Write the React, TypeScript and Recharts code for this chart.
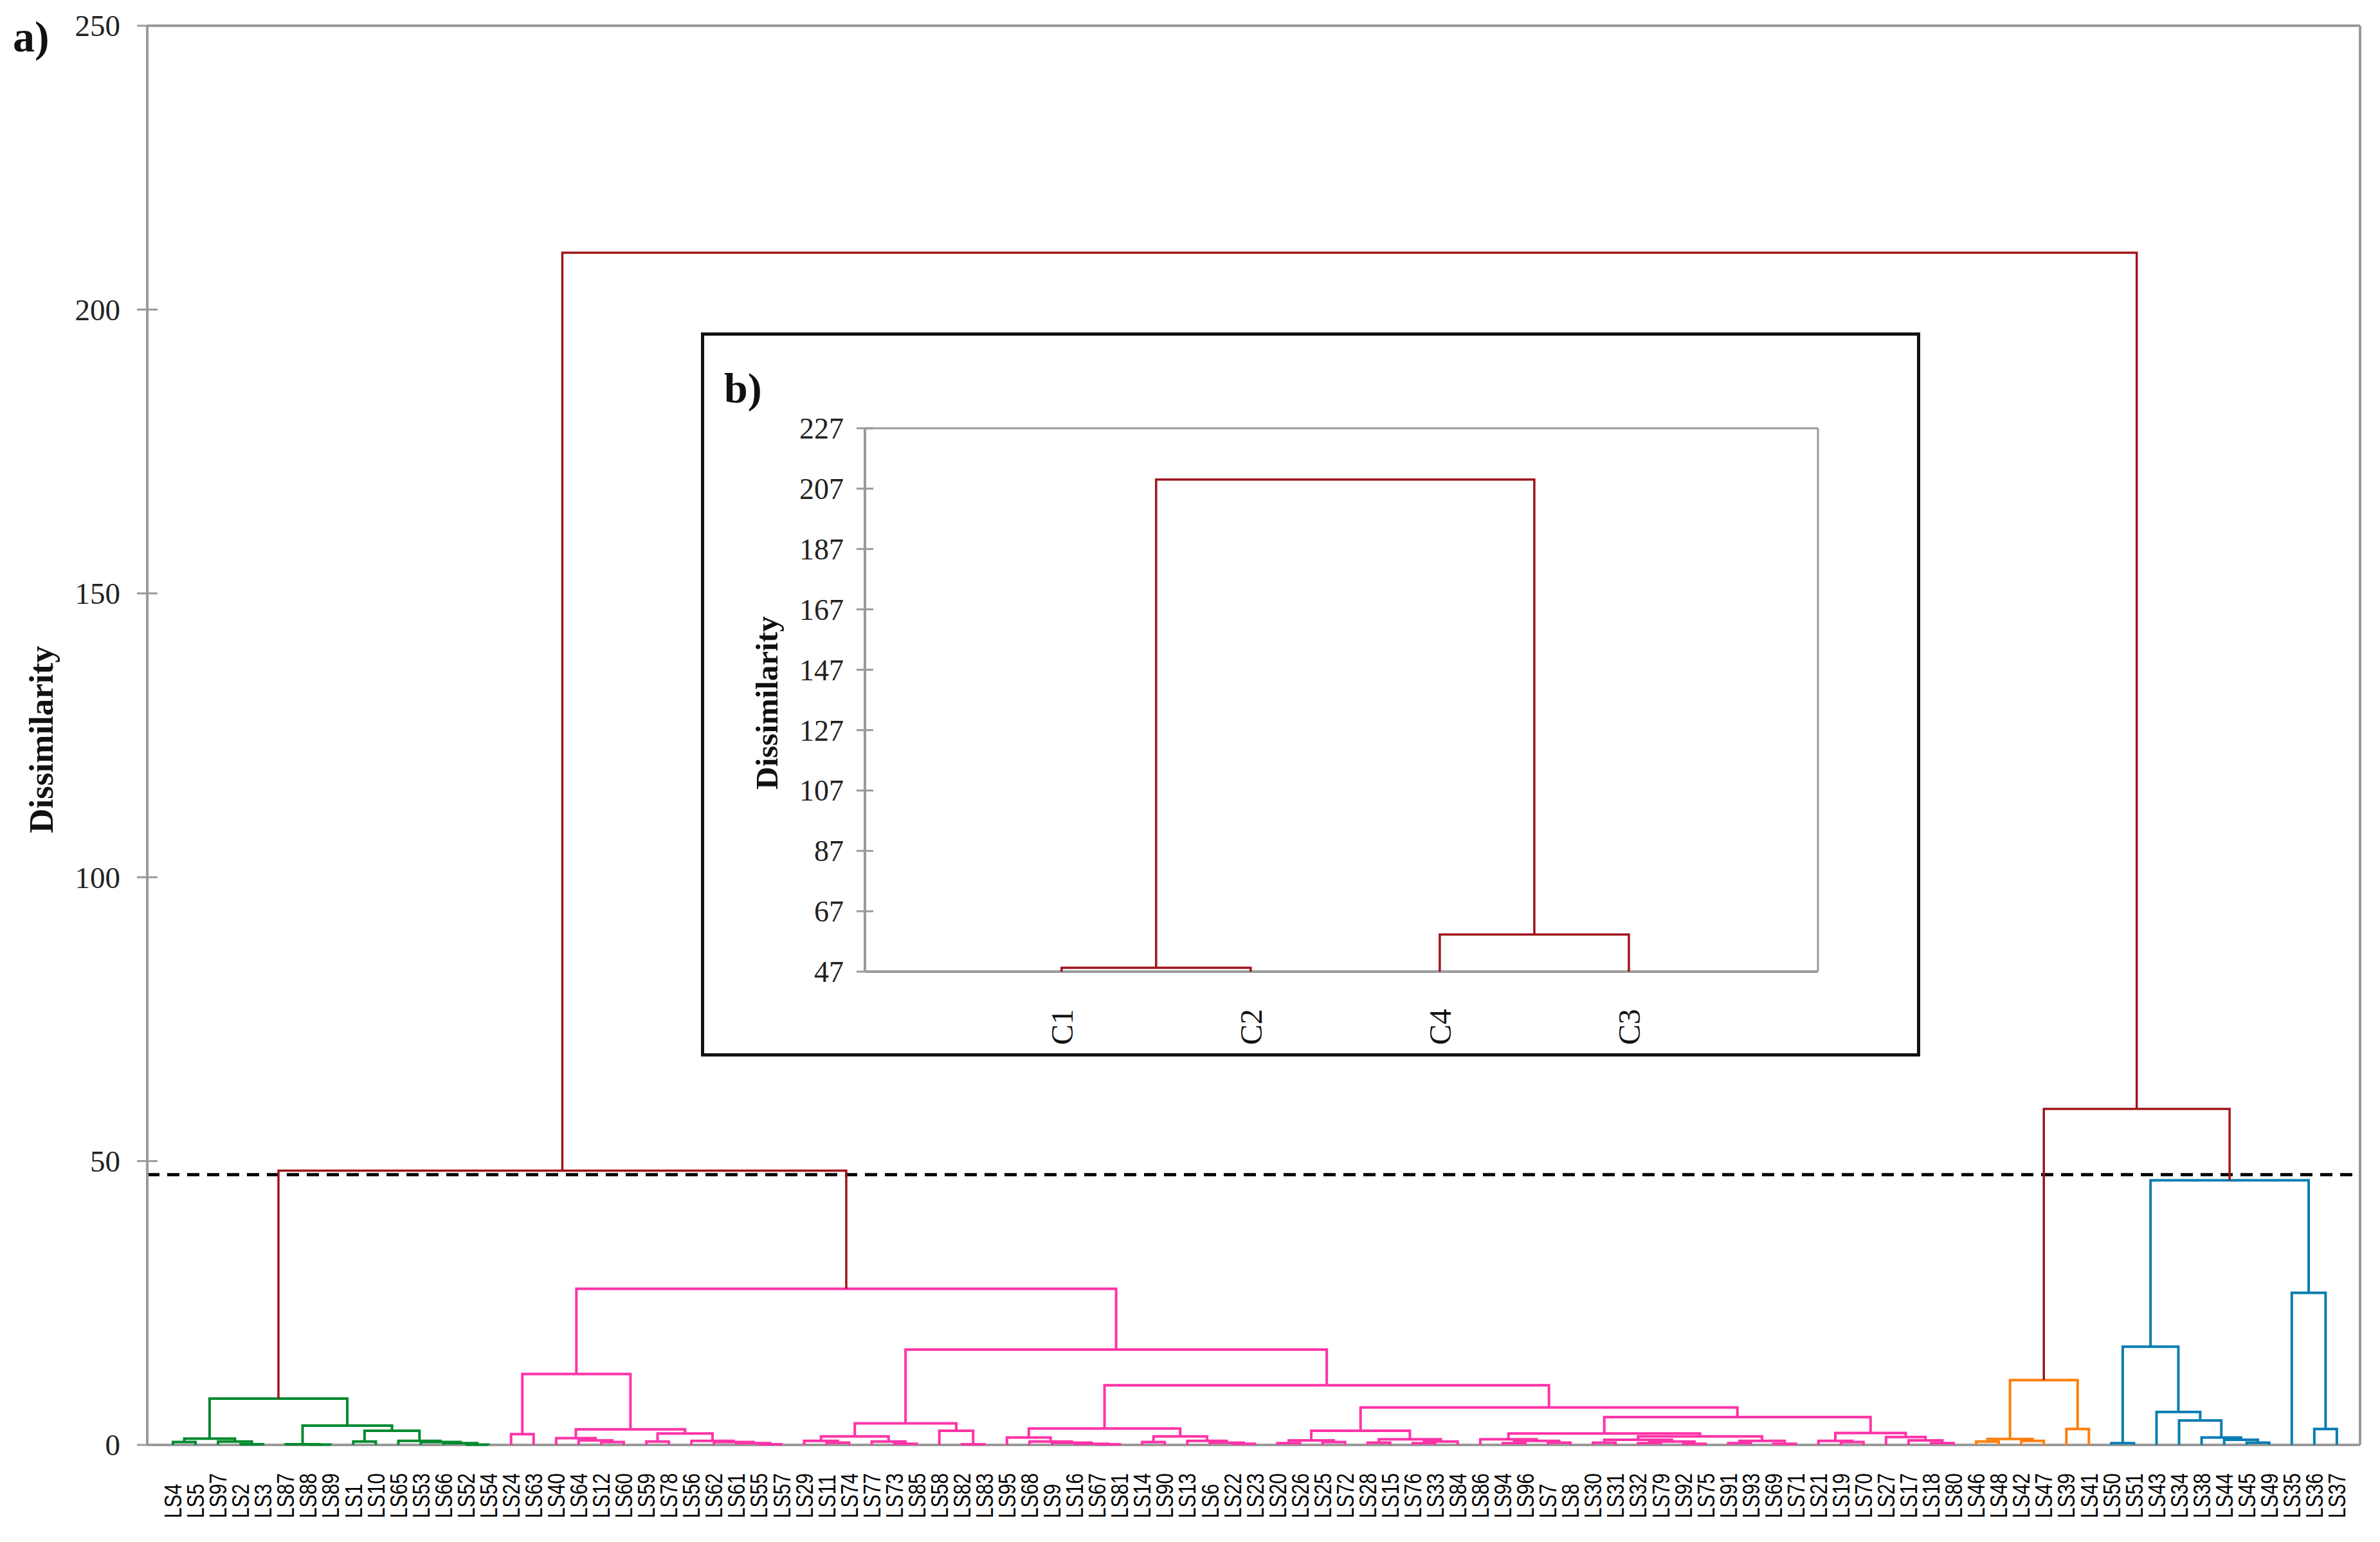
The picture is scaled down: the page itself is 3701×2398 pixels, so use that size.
import { ReferenceLine, Scatter, ScatterChart, XAxis, YAxis } from 'recharts'

// leaf order along the x axis (left to right)
const leafLabels = [
  'LS4', 'LS5', 'LS97', 'LS2', 'LS3', 'LS87', 'LS88', 'LS89', 'LS1', 'LS10', 'LS65', 'LS53', 'LS66', 'LS52', 'LS54',
  'LS24', 'LS63', 'LS40', 'LS64', 'LS12', 'LS60', 'LS59', 'LS78', 'LS56', 'LS62', 'LS61', 'LS55', 'LS57', 'LS29',
  'LS11', 'LS74', 'LS77', 'LS73', 'LS85', 'LS58', 'LS82', 'LS83', 'LS95', 'LS68', 'LS9', 'LS16', 'LS67', 'LS81',
  'LS14', 'LS90', 'LS13', 'LS6', 'LS22', 'LS23', 'LS20', 'LS26', 'LS25', 'LS72', 'LS28', 'LS15', 'LS76', 'LS33',
  'LS84', 'LS86', 'LS94', 'LS96', 'LS7', 'LS8', 'LS30', 'LS31', 'LS32', 'LS79', 'LS92', 'LS75', 'LS91', 'LS93',
  'LS69', 'LS71', 'LS21', 'LS19', 'LS70', 'LS27', 'LS17', 'LS18', 'LS80', 'LS46', 'LS48', 'LS42', 'LS47', 'LS39',
  'LS41', 'LS50', 'LS51', 'LS43', 'LS34', 'LS38', 'LS44', 'LS45', 'LS49', 'LS35', 'LS36', 'LS37',
]

// [node, left child, right child, dissimilarity]
const greenMerges: [string, string, string, number][] = [
  ['g1', 'LS4', 'LS5', 0.5],
  ['g2', 'LS2', 'LS3', 0.1],
  ['g3', 'LS97', 'g2', 0.6],
  ['g4', 'g1', 'g3', 1.1],
  ['g5', 'LS88', 'LS89', 0.05],
  ['g6', 'LS87', 'g5', 0.12],
  ['g7', 'LS1', 'LS10', 0.6],
  ['g8', 'LS52', 'LS54', 0.05],
  ['g9', 'LS66', 'g8', 0.3],
  ['g10', 'LS53', 'g9', 0.5],
  ['g11', 'LS65', 'g10', 0.7],
  ['g12', 'g7', 'g11', 2.5],
  ['g13', 'g6', 'g12', 3.4],
  ['G', 'g4', 'g13', 8.15],
]

const pinkMerges: [string, string, string, number][] = [
  ['p1', 'LS24', 'LS63', 1.9],
  ['p2', 'LS12', 'LS60', 0.5],
  ['p3', 'LS64', 'p2', 0.8],
  ['p4', 'LS40', 'p3', 1.2],
  ['p5', 'LS59', 'LS78', 0.6],
  ['p6', 'LS55', 'LS57', 0.1],
  ['p7', 'LS61', 'p6', 0.3],
  ['p8', 'LS62', 'p7', 0.5],
  ['p9', 'LS56', 'p8', 0.7],
  ['p10', 'p5', 'p9', 2.0],
  ['p11', 'p4', 'p10', 2.75],
  ['PL', 'p1', 'p11', 12.5],
  ['q1', 'LS11', 'LS74', 0.4],
  ['q2', 'LS29', 'q1', 0.7],
  ['q3', 'LS73', 'LS85', 0.2],
  ['q4', 'LS77', 'q3', 0.6],
  ['q5', 'q2', 'q4', 1.5],
  ['q6', 'LS82', 'LS83', 0.1],
  ['q7', 'LS58', 'q6', 2.5],
  ['q8', 'q5', 'q7', 3.8],
  ['q9', 'LS67', 'LS81', 0.1],
  ['q10', 'LS16', 'q9', 0.2],
  ['q11', 'LS9', 'q10', 0.4],
  ['q12', 'LS68', 'q11', 0.6],
  ['q13', 'LS95', 'q12', 1.3],
  ['q14', 'LS14', 'LS90', 0.5],
  ['q15', 'LS22', 'LS23', 0.2],
  ['q16', 'LS6', 'q15', 0.4],
  ['q17', 'LS13', 'q16', 0.7],
  ['q18', 'q14', 'q17', 1.5],
  ['q19', 'q13', 'q18', 2.9],
  ['q20', 'LS20', 'LS26', 0.3],
  ['q21', 'LS25', 'LS72', 0.5],
  ['q22', 'q20', 'q21', 0.8],
  ['q23', 'LS28', 'LS15', 0.4],
  ['q24', 'LS76', 'LS33', 0.3],
  ['q25', 'q24', 'LS84', 0.6],
  ['q26', 'q23', 'q25', 1.0],
  ['q27', 'q22', 'q26', 2.5],
  ['q28', 'LS94', 'LS96', 0.3],
  ['q29', 'LS7', 'LS8', 0.4],
  ['q30', 'q28', 'q29', 0.7],
  ['q31', 'LS86', 'q30', 1.0],
  ['q32', 'LS30', 'LS31', 0.4],
  ['q33', 'LS32', 'LS79', 0.3],
  ['q34', 'LS92', 'LS75', 0.2],
  ['q35', 'q33', 'q34', 0.6],
  ['q36', 'q32', 'q35', 0.9],
  ['q37', 'LS91', 'LS93', 0.3],
  ['q38', 'LS69', 'LS71', 0.2],
  ['q39', 'q37', 'q38', 0.7],
  ['q40', 'q36', 'q39', 1.5],
  ['q41', 'q31', 'q40', 2.0],
  ['q42', 'LS19', 'LS70', 0.5],
  ['q43', 'LS21', 'q42', 0.7],
  ['q44', 'LS18', 'LS80', 0.3],
  ['q45', 'LS17', 'q44', 0.8],
  ['q46', 'LS27', 'q45', 1.4],
  ['q47', 'q43', 'q46', 2.1],
  ['q48', 'q41', 'q47', 4.9],
  ['q49', 'q27', 'q48', 6.6],
  ['q50', 'q19', 'q49', 10.5],
  ['q51', 'q8', 'q50', 16.8],
  ['P', 'PL', 'q51', 27.5],
]

const orangeMerges: [string, string, string, number][] = [
  ['o1', 'LS46', 'LS48', 0.6],
  ['o2', 'LS42', 'LS47', 0.7],
  ['o3', 'o1', 'o2', 1.05],
  ['o4', 'LS39', 'LS41', 2.8],
  ['O', 'o3', 'o4', 11.4],
]

const blueMerges: [string, string, string, number][] = [
  ['b1', 'LS50', 'LS51', 0.3],
  ['b2', 'LS45', 'LS49', 0.4],
  ['b3', 'LS44', 'b2', 0.9],
  ['b4', 'LS38', 'b3', 1.3],
  ['b5', 'LS34', 'b4', 4.3],
  ['b6', 'LS43', 'b5', 5.8],
  ['b7', 'b1', 'b6', 17.3],
  ['b8', 'LS36', 'LS37', 2.8],
  ['b9', 'LS35', 'b8', 26.8],
  ['B', 'b7', 'b9', 46.6],
]

const topMerges: [string, string, string, number][] = [
  ['L', 'G', 'P', 48.3],
  ['R', 'O', 'B', 59.2],
  ['root', 'L', 'R', 210],
]

const clusterTops = ['G', 'P', 'O', 'B']
const yTicks = [0, 50, 100, 150, 200, 250]
const cutHeight = 47.6

// inset b): the four clusters
const insetLeaves = ['C1', 'C2', 'C4', 'C3']
const insetMerges: [string, string, string, number][] = [
  ['c12', 'C1', 'C2', 48.3],
  ['c43', 'C4', 'C3', 59.3],
  ['top', 'c12', 'c43', 210],
]
const insetTicks = [47, 67, 87, 107, 127, 147, 167, 187, 207, 227]
const insetLeafLevel = 47

const clusterColors: Record<string, string> = {
  G: '#008a2e',
  P: '#ff33a8',
  O: '#ff7f0e',
  B: '#0a7db2',
}
const linkColor = '#a0141c'
const axisGrey = '#9a9a9a'
const serif = "'Liberation Serif', 'Times New Roman', serif"
const sans = "'Liberation Sans', Arial, sans-serif"

interface Link {
  id: string
  color: string
  points: { x: number; y: number }[]
}

function buildLinks(
  leaves: string[],
  merges: [string, string, string, number][],
  base: number,
  start: number,
  tops: string[],
): Link[] {
  const pos = new Map<string, { x: number; h: number }>()
  leaves.forEach((leaf, i) => pos.set(leaf, { x: i + start, h: base }))

  const children = new Map<string, string[]>()
  merges.forEach(([id, l, r]) => children.set(id, [l, r]))
  const group = new Map<string, string>()
  const mark = (id: string, key: string) => {
    group.set(id, key)
    children.get(id)?.forEach((kid) => mark(kid, key))
  }
  tops.forEach((t) => mark(t, t))

  return merges.map(([id, l, r, h]) => {
    const a = pos.get(l)!
    const b = pos.get(r)!
    pos.set(id, { x: (a.x + b.x) / 2, h })
    const key = group.get(id)
    return {
      id,
      color: key ? clusterColors[key] : linkColor,
      points: [
        { x: a.x, y: a.h },
        { x: a.x, y: h },
        { x: b.x, y: h },
        { x: b.x, y: b.h },
      ],
    }
  })
}

const mainLinks = buildLinks(
  leafLabels,
  [...greenMerges, ...pinkMerges, ...orangeMerges, ...blueMerges, ...topMerges],
  0,
  0,
  clusterTops,
)
const insetLinks = buildLinks(insetLeaves, insetMerges, insetLeafLevel, 1, [])

const noShape = () => <g />

function LeafTick({ x, y, payload }: any) {
  return (
    <text
      transform={`translate(${x},${y + 114}) rotate(-90) scale(1,1.22)`}
      textAnchor="start"
      dy="0.36em"
      fontFamily={sans}
      fontSize={30}
      fill="#000"
    >
      {leafLabels[payload.value]}
    </text>
  )
}

function MainYTick({ x, y, payload }: any) {
  const axisX = x + 26 + 16
  return (
    <g>
      <line x1={axisX} x2={axisX + 16} y1={y} y2={y} stroke={axisGrey} strokeWidth={3} />
      <text x={x} y={y} dy="0.35em" textAnchor="end" fontFamily={serif} fontSize={47} fill="#222">
        {payload.value}
      </text>
    </g>
  )
}

function InsetXTick({ x, y, payload }: any) {
  return (
    <text
      transform={`translate(${x},${y + 114}) rotate(-90)`}
      textAnchor="start"
      dy="0.36em"
      fontFamily={serif}
      fontSize={48}
      fill="#111"
    >
      {insetLeaves[payload.value - 1]}
    </text>
  )
}

function InsetYTick({ x, y, payload }: any) {
  const axisX = x + 20 + 13
  return (
    <g>
      <line x1={axisX} x2={axisX + 13} y1={y} y2={y} stroke={axisGrey} strokeWidth={3} />
      <text x={x} y={y} dy="0.35em" textAnchor="end" fontFamily={serif} fontSize={46} fill="#222">
        {payload.value}
      </text>
    </g>
  )
}

function InsetChart() {
  return (
    <div
      style={{
        position: 'absolute',
        left: 1090,
        top: 517,
        width: 1896,
        height: 1126,
        boxSizing: 'border-box',
        border: '5px solid #111',
        background: '#fff',
      }}
    >
      <ScatterChart width={1886} height={1116} margin={{ top: 144, right: 154, bottom: 0, left: 0 }}>
        <XAxis
          type="number"
          dataKey="x"
          domain={[-0.04, 5]}
          ticks={[1, 2, 3, 4]}
          interval={0}
          tick={(props: any) => <InsetXTick {...props} />}
          tickLine={false}
          tickSize={0}
          tickMargin={0}
          height={127}
          axisLine={{ stroke: axisGrey, strokeWidth: 4 }}
        />
        <YAxis
          type="number"
          dataKey="y"
          domain={[47, 227]}
          ticks={insetTicks}
          interval={0}
          width={250}
          tickSize={13}
          tickMargin={20}
          tickLine={{ stroke: axisGrey, strokeWidth: 3 }}
          axisLine={{ stroke: axisGrey, strokeWidth: 4 }}
          tick={(props: any) => <InsetYTick {...props} />}
        />
        <ReferenceLine y={227} stroke={axisGrey} strokeWidth={3} />
        <ReferenceLine x={5} stroke={axisGrey} strokeWidth={3} />
        {insetLinks.map((link) => (
          <Scatter
            key={link.id}
            data={link.points}
            line={{ stroke: link.color, strokeWidth: 3.5 }}
            shape={noShape}
            legendType="none"
            isAnimationActive={false}
          />
        ))}
      </ScatterChart>
      <div
        style={{
          position: 'absolute',
          left: 31,
          top: 44,
          fontFamily: serif,
          fontWeight: 'bold',
          fontSize: 66,
          color: '#111',
        }}
      >
        b)
      </div>
      <div
        style={{
          position: 'absolute',
          left: 97,
          top: 571,
          transform: 'translate(-50%, -50%) rotate(-90deg)',
          whiteSpace: 'nowrap',
          fontFamily: serif,
          fontWeight: 'bold',
          fontSize: 49,
          color: '#111',
        }}
      >
        Dissimilarity
      </div>
    </div>
  )
}

export default function App() {
  return (
    <div style={{ position: 'absolute', left: 0, top: 0, width: 3701, height: 2398, background: '#fff' }}>
      <ScatterChart width={3701} height={2398} margin={{ top: 40, right: 31, bottom: 0, left: 0 }}>
        <XAxis
          type="number"
          dataKey="x"
          domain={[-1.14, 97.03]}
          ticks={leafLabels.map((_, i) => i)}
          interval={0}
          tick={(props: any) => <LeafTick {...props} />}
          tickLine={false}
          tickSize={0}
          tickMargin={0}
          height={151}
          axisLine={{ stroke: axisGrey, strokeWidth: 4 }}
        />
        <YAxis
          type="number"
          dataKey="y"
          domain={[0, 250]}
          ticks={yTicks}
          interval={0}
          width={229}
          tickSize={16}
          tickMargin={26}
          tickLine={{ stroke: axisGrey, strokeWidth: 3 }}
          axisLine={{ stroke: axisGrey, strokeWidth: 4 }}
          tick={(props: any) => <MainYTick {...props} />}
        />
        <ReferenceLine y={250} stroke={axisGrey} strokeWidth={4} />
        <ReferenceLine x={97.03} stroke={axisGrey} strokeWidth={4} />
        {mainLinks.map((link) => (
          <Scatter
            key={link.id}
            data={link.points}
            line={{ stroke: link.color, strokeWidth: link.color === linkColor ? 3.5 : 4 }}
            shape={noShape}
            legendType="none"
            isAnimationActive={false}
          />
        ))}
        <ReferenceLine y={cutHeight} stroke="#000" strokeWidth={5} strokeDasharray="19 12" />
      </ScatterChart>
      <div
        style={{
          position: 'absolute',
          left: 20,
          top: 18,
          fontFamily: serif,
          fontWeight: 'bold',
          fontSize: 68,
          color: '#111',
        }}
      >
        a)
      </div>
      <div
        style={{
          position: 'absolute',
          left: 64,
          top: 1150,
          transform: 'translate(-50%, -50%) rotate(-90deg)',
          whiteSpace: 'nowrap',
          fontFamily: serif,
          fontWeight: 'bold',
          fontSize: 53,
          color: '#111',
        }}
      >
        Dissimilarity
      </div>
      <InsetChart />
    </div>
  )
}
